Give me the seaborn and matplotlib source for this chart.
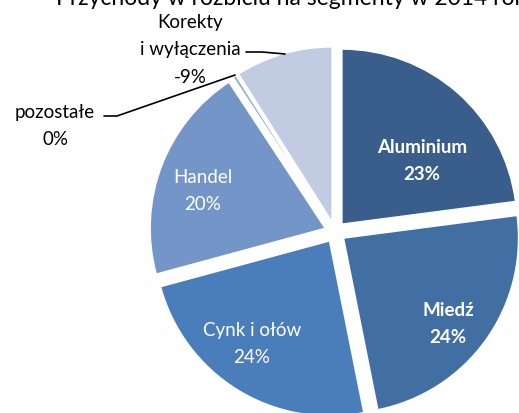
import numpy as np
import matplotlib
matplotlib.use("Agg")
import matplotlib.pyplot as plt
import seaborn as sns

# segment data (share of revenue, %)
segments = ["Aluminium", "Miedź", "Cynk i ołów", "Handel", "pozostałe", "Korekty\ni wyłączenia"]
shares = [23, 24, 24, 20, 0.3, -9]
colors = ["#3A5E8C", "#426FA3", "#4A7EBB", "#7495C7", "#8FA8D4", "#C1CCE2"]
title = "Przychody w rozbiciu na segmenty w 2014 roku"

sns.set_theme(style="white")
plt.rcParams["font.family"] = ["Lato", "DejaVu Sans"]

W, H = 519, 414
fig = plt.figure(figsize=(W / 100, H / 100), dpi=100)
ax = fig.add_axes([0, 0, 1, 1])
ax.axis("off")

cx, cy, r = 335, H - 233, 175
# explode is in data units (pixels here)
wedges, _ = ax.pie(np.abs(shares), colors=colors, startangle=90, counterclock=False,
                   explode=[10.5] * len(shares), radius=r, center=(cx, cy),
                   wedgeprops=dict(edgecolor="white", linewidth=1))
ax.set_xlim(0, W)
ax.set_ylim(0, H)
ax.set_aspect("equal")


def pct(v):
    return f"{round(v):.0f}%"


fs = 13.5
ls = 1.72
# labels inside the slices (pixel positions from top-left)
inside = {0: (422, 161, "bold"), 1: (448, 324, "bold"), 2: (252, 344, "normal"), 3: (203, 191, "normal")}
for i, (x, y, w) in inside.items():
    ax.text(x, H - y, f"{segments[i]}\n{pct(shares[i])}", color="white", ha="center", va="center",
            fontsize=fs, fontweight=w, linespacing=ls)

# outside labels with leader lines
ax.text(55, H - 126, f"{segments[4]}\n{pct(shares[4])}", ha="center", va="center",
        fontsize=fs, color="black", linespacing=ls)
ax.plot([104, 117, 235], [H - 117, H - 117, H - 76], color="black", lw=1.2)

ax.text(190, H - 50, f"{segments[5]}\n{pct(shares[5])}", ha="center", va="center",
        fontsize=fs, color="black", linespacing=ls)
ax.plot([246, 262, 285], [H - 53, H - 53, H - 55], color="black", lw=1.2)

ax.text(297, H - 5, title, ha="center", va="baseline", fontsize=16.5, color="black")

fig.savefig("out.png", dpi=100)
